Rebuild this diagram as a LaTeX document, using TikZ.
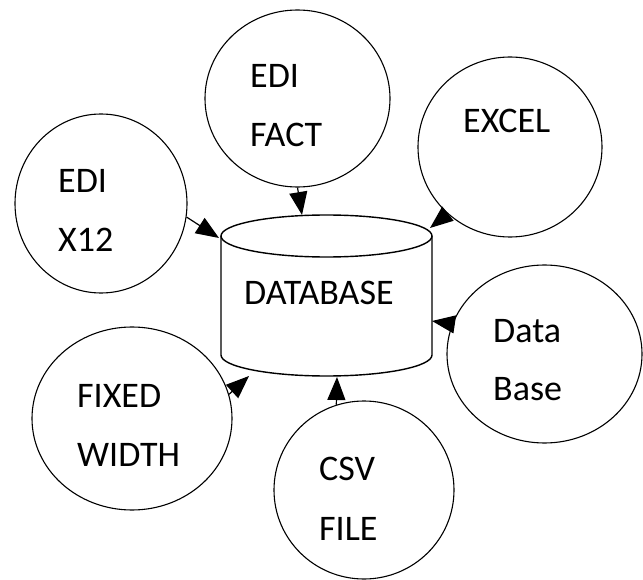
\documentclass[tikz,border=0pt]{standalone}
\usepackage{fontspec}
\setmainfont{Carlito}
\usetikzlibrary{shapes.geometric,arrows.meta}
\begin{document}
\begin{tikzpicture}[x=1pt,y=-1pt,
  src/.style={draw,ellipse,line width=1.1pt,inner sep=0pt},
  lbl/.style={anchor=base west,inner sep=0pt,font=\fontsize{36}{40}\selectfont},
  flow/.style={line width=1.2pt,-{Triangle[length=23pt,width=18pt]}},
  cyl/.style={line width=1.4pt}]
\useasboundingbox (0,0) rectangle (643,580);
% cylinder
\draw[cyl] (326.5,236) ellipse [x radius=105.5, y radius=21];
\draw[cyl] (221,236) -- (221,355) arc[start angle=180, end angle=0, x radius=105.5, y radius=21] -- (432,236);
\node[lbl] (db) at (244,305) {DATABASE};
% source circles
\node[src, minimum width=185pt, minimum height=177pt] (fact) at (297.5,98.5) {};
\node[src, minimum width=184pt, minimum height=180pt] (excel) at (510,147) {};
\node[src, minimum width=172pt, minimum height=179pt] (x12) at (101,203.5) {};
\node[src, minimum width=195pt, minimum height=178pt] (dbc) at (544.5,354) {};
\node[src, minimum width=200pt, minimum height=183pt] (fw) at (132,418.5) {};
\node[src, minimum width=180pt, minimum height=178pt] (csv) at (364,490) {};
% labels
\node[lbl] (factA) at (250,88) {EDI};
\node[lbl] (factB) at (250,147) {FACT};
\node[lbl] (excelA) at (463,133) {EXCEL};
\node[lbl] (x12A) at (58,193) {EDI};
\node[lbl] (x12B) at (58,252) {X12};
\node[lbl] (dbcA) at (493,342) {Data};
\node[lbl] (dbcB) at (493,400) {Base};
\node[lbl] (fwA) at (77,407) {FIXED};
\node[lbl] (fwB) at (77,466) {WIDTH};
\node[lbl] (csvA) at (319,480) {CSV};
\node[lbl] (csvB) at (319,540) {FILE};
% arrow tips on the cylinder
\coordinate (tFact) at (302,215);
\coordinate (tExcel) at (430,228);
\coordinate (tX12) at (219,238);
\coordinate (tDbc) at (432,321);
\coordinate (tFw) at (249,376);
\coordinate (tCsv) at (337,377);
% connectors
\draw[flow] (fact.south) -- (tFact);
\draw[flow] (excel.227) -- (tExcel);
\draw[flow] (x12.-9) -- (tX12);
\draw[flow] (dbc.162) -- (tDbc);
\draw[flow] (fw.14) -- (tFw);
\draw[flow] (csv.108) -- (tCsv);
\end{tikzpicture}
\end{document}
